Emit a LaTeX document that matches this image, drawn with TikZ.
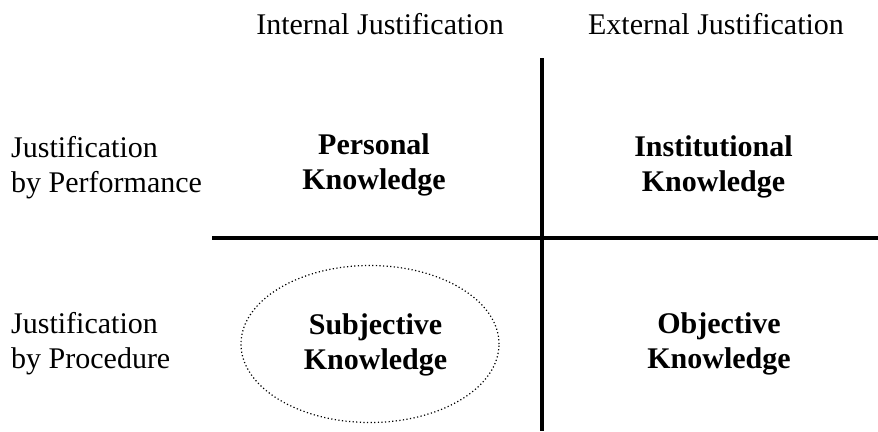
\documentclass[tikz,border=0pt]{standalone}
\usepackage{fontspec}
\setmainfont{Liberation Serif}
\usetikzlibrary{positioning,shapes.geometric}

\begin{document}
\begin{tikzpicture}[x=1pt,y=-1pt,
  hdr/.style={font=\fontsize{30}{35}\selectfont,inner sep=0pt,anchor=base},
  side/.style={font=\fontsize{30}{35}\selectfont,align=left,anchor=west,inner sep=0pt},
  cell/.style={font=\fontsize{30}{35}\selectfont\bfseries,align=center,inner sep=0pt},
  ring/.style={ellipse,draw,line width=1.2pt,dash pattern=on 1.2pt off 2.4pt,
               minimum width=258pt,minimum height=157pt},
  axis/.style={line width=4.5pt}
]
\useasboundingbox (0,0) rectangle (878,431);

%% -- column and row headings --
\node[hdr]  (inth) at (380,34)  {Internal Justification};
\node[hdr]  (exth) at (716,34)  {External Justification};
\node[side] (perf) at (11,168)  {Justification\\by Performance};
\node[side] (proc) at (11,343.5){Justification\\by Procedure};

%% -- the four quadrants --
\node[cell] (pers) at (374,165)   {Personal\\Knowledge};
\node[cell] (inst) at (713.5,167) {Institutional\\Knowledge};
\node[ring] (subjring) at (370,344) {};
\node[cell] (subj) at (375.5,344.5) {Subjective\\Knowledge};
\node[cell] (obj)  at (719,344)   {Objective\\Knowledge};

%% -- axes --
\coordinate (vtop) at (542,58);
\coordinate (vbot) at (542,431);
\coordinate (hlft) at (212,238);
\coordinate (hrgt) at (878,238);
\draw[axis] (vtop) -- (vbot);
\draw[axis] (hlft) -- (hrgt);
\end{tikzpicture}
\end{document}
